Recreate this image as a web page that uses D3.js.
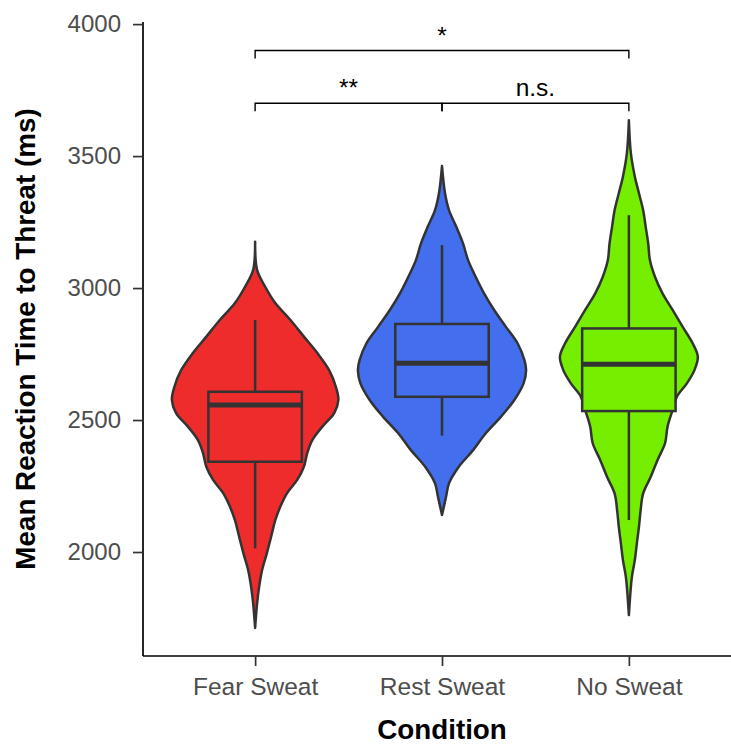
<!DOCTYPE html>
<html>
<head>
<meta charset="utf-8">
<script src="https://cdn.jsdelivr.net/npm/d3@7"></script>
<style>
  html, body { margin: 0; padding: 0; background: #ffffff; }
  svg { display: block; }
  text { font-family: "Liberation Sans", Arial, Helvetica, sans-serif; }
</style>
</head>
<body>
<div id="chart"></div>
<script>
// Conditions and fills
const categories = ["Fear Sweat", "Rest Sweat", "No Sweat"];
const fillColors = ["#EE2C2C", "#436EEE", "#76EE00"];

// Box plot summaries (ms)
const whiskerLow  = [2014, 2441, 2121];
const q1          = [2342, 2588, 2534];
const medians     = [2557, 2715, 2711];
const q3          = [2607, 2864, 2847];
const whiskerHigh = [2879, 3163, 3276];

// Violin outlines: reaction time (ms) and relative density
const fearRT      = [3175, 3068, 3005, 2943, 2879, 2816, 2754, 2689, 2626, 2576, 2526, 2475, 2424, 2375, 2323, 2273, 2223, 2172, 2121, 2058, 1996, 1932, 1869, 1807, 1712];
const fearDensity = [0, 0.024, 0.12, 0.24, 0.42, 0.58, 0.74, 0.88, 0.96, 0.99, 0.94, 0.80, 0.68, 0.62, 0.58, 0.50, 0.38, 0.30, 0.24, 0.19, 0.14, 0.083, 0.048, 0.024, 0];

const restRT      = [3462, 3359, 3295, 3232, 3169, 3106, 3043, 2980, 2917, 2853, 2790, 2727, 2689, 2639, 2576, 2512, 2450, 2386, 2323, 2260, 2209, 2140];
const restDensity = [0, 0.036, 0.083, 0.17, 0.25, 0.31, 0.40, 0.50, 0.62, 0.76, 0.90, 0.98, 1.0, 0.97, 0.86, 0.70, 0.52, 0.37, 0.20, 0.083, 0.048, 0];

const noRT        = [3636, 3510, 3422, 3359, 3295, 3232, 3169, 3106, 3043, 2980, 2917, 2853, 2790, 2740, 2689, 2639, 2588, 2538, 2475, 2412, 2348, 2285, 2222, 2159, 2096, 2033, 1970, 1906, 1844, 1761];
const noDensity   = [0, 0.024, 0.071, 0.12, 0.17, 0.20, 0.23, 0.25, 0.31, 0.40, 0.52, 0.64, 0.76, 0.82, 0.78, 0.69, 0.57, 0.52, 0.46, 0.43, 0.34, 0.26, 0.17, 0.14, 0.12, 0.095, 0.071, 0.036, 0.018, 0];

const violinRT      = [fearRT, restRT, noRT];
const violinDensity = [fearDensity, restDensity, noDensity];

// Y axis ticks
const yTicks = [2000, 2500, 3000, 3500, 4000];

// Pairwise comparisons
const compFrom   = ["Fear Sweat", "Rest Sweat", "Fear Sweat"];
const compTo     = ["Rest Sweat", "No Sweat", "No Sweat"];
const compY      = [3700, 3700, 3900];
const compLabels = ["**", "n.s.", "*"];

const W = 731, H = 744;
const svg = d3.select("#chart").append("svg")
  .attr("width", W).attr("height", H);

const panel = { left: 143, right: 741, top: 22, bottom: 656 };

const x = d3.scalePoint()
  .domain(categories)
  .range([panel.left, panel.right])
  .padding(0.6);

const y = d3.scaleLinear()
  .domain([1606, 4008])
  .range([panel.bottom, panel.top]);

const halfWidth = d3.scaleLinear()
  .domain([0, 1])
  .range([0, 0.45 * x.step()]);

const outline = "#333333";

// Violins with embedded box plots
categories.forEach((cat, i) => {
  const cx = x(cat);
  const pts = violinRT[i].map((v, k) => ({ v, d: violinDensity[i][k] }));
  const area = d3.area()
    .y(p => y(p.v))
    .x0(p => cx - halfWidth(p.d))
    .x1(p => cx + halfWidth(p.d))
    .curve(d3.curveCatmullRom.alpha(0.5));

  const g = svg.append("g").attr("class", "condition");

  g.append("path")
    .attr("d", area(pts))
    .attr("fill", fillColors[i])
    .attr("stroke", outline)
    .attr("stroke-width", 2.5)
    .attr("stroke-linejoin", "round");

  const bw = 0.5 * x.step();

  // whiskers
  g.append("line")
    .attr("x1", cx).attr("x2", cx)
    .attr("y1", y(q3[i])).attr("y2", y(whiskerHigh[i]))
    .attr("stroke", outline).attr("stroke-width", 2.5);
  g.append("line")
    .attr("x1", cx).attr("x2", cx)
    .attr("y1", y(q1[i])).attr("y2", y(whiskerLow[i]))
    .attr("stroke", outline).attr("stroke-width", 2.5);

  // box
  g.append("rect")
    .attr("x", cx - bw / 2)
    .attr("width", bw)
    .attr("y", y(q3[i]))
    .attr("height", y(q1[i]) - y(q3[i]))
    .attr("fill", fillColors[i])
    .attr("stroke", outline)
    .attr("stroke-width", 2.5);

  // median
  g.append("line")
    .attr("x1", cx - bw / 2).attr("x2", cx + bw / 2)
    .attr("y1", y(medians[i])).attr("y2", y(medians[i]))
    .attr("stroke", outline).attr("stroke-width", 5);
});

// Significance brackets
const tip = 30;
compFrom.forEach((from, i) => {
  const xa = x(from), xb = x(compTo[i]);
  const yb = y(compY[i]);
  svg.append("path")
    .attr("d", d3.line()([
      [xa, y(compY[i] - tip)], [xa, yb], [xb, yb], [xb, y(compY[i] - tip)]
    ]))
    .attr("fill", "none")
    .attr("stroke", "#000")
    .attr("stroke-width", 1.4);
  svg.append("text")
    .attr("x", (xa + xb) / 2)
    .attr("y", yb - 7)
    .attr("text-anchor", "middle")
    .attr("font-size", 24.5)
    .attr("fill", "#000")
    .text(compLabels[i]);
});

// Y axis
const yAxis = svg.append("g")
  .attr("transform", `translate(${panel.left},0)`)
  .call(d3.axisLeft(y).tickValues(yTicks).tickFormat(d3.format("d"))
    .tickSize(10).tickPadding(12).tickSizeOuter(0));
yAxis.select(".domain")
  .attr("d", `M0,${panel.top}V${panel.bottom}`)
  .attr("stroke", "#000").attr("stroke-width", 1.7);
yAxis.selectAll(".tick line").attr("stroke", "#333").attr("stroke-width", 1.7);
yAxis.selectAll(".tick text")
  .attr("font-size", 24)
  .attr("font-family", "Liberation Sans, Arial, sans-serif")
  .attr("fill", "#4D4D4D");

// X axis
const xAxis = svg.append("g")
  .attr("transform", `translate(0,${panel.bottom})`)
  .call(d3.axisBottom(x).tickSize(10).tickPadding(12).tickSizeOuter(0));
xAxis.select(".domain")
  .attr("d", `M${panel.left},0H${W + 10}`)
  .attr("stroke", "#000").attr("stroke-width", 1.7);
xAxis.selectAll(".tick line").attr("stroke", "#333").attr("stroke-width", 1.7);
xAxis.selectAll(".tick text")
  .attr("font-size", 24.5)
  .attr("font-family", "Liberation Sans, Arial, sans-serif")
  .attr("fill", "#4D4D4D");

// Axis titles
svg.append("text")
  .attr("x", x("Rest Sweat"))
  .attr("y", 739)
  .attr("text-anchor", "middle")
  .attr("font-size", 27.8)
  .attr("font-weight", "bold")
  .attr("fill", "#000")
  .text("Condition");

svg.append("text")
  .attr("transform", `translate(35,${(panel.top + panel.bottom) / 2}) rotate(-90)`)
  .attr("text-anchor", "middle")
  .attr("font-size", 27.8)
  .attr("font-weight", "bold")
  .attr("fill", "#000")
  .text("Mean Reaction Time to Threat (ms)");
</script>
</body>
</html>
